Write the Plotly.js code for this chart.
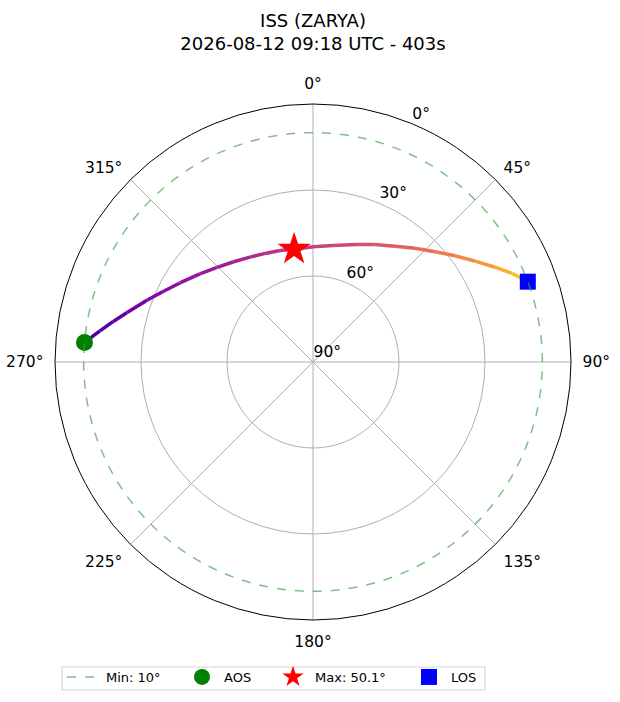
<!DOCTYPE html>
<html>
<head>
<meta charset="utf-8">
<script src="https://cdn.plot.ly/plotly-3.0.1.min.js"></script>
<style>
  html, body { margin: 0; padding: 0; background: #fff; }
  #chart { width: 620px; height: 702px; }
</style>
</head>
<body>
<div id="chart"></div>
<script>
// Satellite pass sky plot: azimuth clockwise from north, elevation 90° at centre.
const TITLE = "ISS (ZARYA)<br>2026-08-12 09:18 UTC - 403s";

// track (degrees), AOS -> LOS
const TRACK_AZ = [274.9, 278.3, 281.4, 284.9, 290.4, 295.2, 300.7, 307.9, 314.6, 321.3, 329.0, 336.2, 343.5,
                  350.5, 0.0, 9.8, 20.5, 27.8, 35.3, 41.9, 47.9, 53.2, 58.1, 62.5, 66.0, 69.5];
const TRACK_EL = [10.0, 14.9, 18.8, 22.9, 28.2, 32.2, 36.0, 40.0, 43.0, 45.3, 47.3, 48.6, 49.4,
                  50.1, 49.8, 48.8, 46.2, 43.7, 40.5, 36.7, 32.6, 28.1, 23.4, 18.4, 14.0, 10.0];
const TRACK_C = [0.08, 0.12, 0.16, 0.20, 0.24, 0.28, 0.31, 0.34, 0.35, 0.37, 0.39, 0.41, 0.43,
                 0.45, 0.47, 0.50, 0.53, 0.55, 0.58, 0.61, 0.65, 0.69, 0.73, 0.79, 0.84, 0.88];

const MIN_EL = 10;
const AOS = { az: 274.9, el: 10.0 };
const MAX = { az: 350.5, el: 50.1 };
const LOS = { az: 69.5, el: 10.0 };

const AZ_TICKS = [0, 45, 90, 135, 180, 225, 270, 315];
const EL_TICKS = [0, 30, 60, 90];

const FONT = "DejaVu Sans, sans-serif";
const GRID = "#b0b0b0";
const MIN_COLOR = "rgba(60,160,60,0.65)";

// matplotlib "plasma" stops
const PLASMA = ["#0d0887", "#41049d", "#6a00a8", "#8f0da4", "#b12a90", "#cc4778",
                "#e16462", "#f2844b", "#fca636", "#fcce25", "#f0f921"];

function hexToRgb(h) {
  return [1, 3, 5].map((i) => parseInt(h.slice(i, i + 2), 16));
}
function plasma(f) {
  const p = Math.max(0, Math.min(1, f)) * (PLASMA.length - 1);
  const i = Math.min(Math.floor(p), PLASMA.length - 2);
  const t = p - i;
  const a = hexToRgb(PLASMA[i]), b = hexToRgb(PLASMA[i + 1]);
  const c = a.map((v, k) => Math.round(v + (b[k] - v) * t));
  return `rgb(${c.join(",")})`;
}

const traces = [];

// legend entry for the min-elevation ring (the ring itself is a dashed grid circle on polar2)
traces.push({
  type: "scatterpolar", name: "Min: 10°", legend: "legend",
  r: [null], theta: [null], mode: "lines",
  line: { color: MIN_COLOR, width: 1.5, dash: "dash" },
  subplot: "polar",
});

// coloured track, one short segment per pair of points
const n = TRACK_AZ.length;
for (let i = 0; i < n - 1; i++) {
  traces.push({
    type: "scatterpolar", mode: "lines", showlegend: false, hoverinfo: "skip",
    r: [TRACK_EL[i], TRACK_EL[i + 1]],
    theta: [TRACK_AZ[i], TRACK_AZ[i + 1]],
    line: { color: plasma((TRACK_C[i] + TRACK_C[i + 1]) / 2), width: 3.5 },
    subplot: "polar",
  });
}

traces.push({
  type: "scatterpolar", mode: "markers", name: "AOS", legend: "legend2",
  r: [AOS.el], theta: [AOS.az],
  marker: { symbol: "circle", size: 17, color: "green" },
  subplot: "polar",
});
traces.push({
  type: "scatterpolar", mode: "markers", name: "Max: 50.1°", legend: "legend3",
  r: [MAX.el], theta: [MAX.az],
  marker: { symbol: "star", size: 25, color: "red" },
  subplot: "polar",
});
traces.push({
  type: "scatterpolar", mode: "markers", name: "LOS", legend: "legend4",
  r: [LOS.el], theta: [LOS.az],
  marker: { symbol: "square", size: 16, color: "blue" },
  subplot: "polar",
});

// overlays: polar2 draws the dashed min ring, polar3 carries the radial labels
traces.push({ type: "scatterpolar", mode: "lines", r: [null], theta: [null],
  showlegend: false, hoverinfo: "skip", subplot: "polar2" });
traces.push({ type: "scatterpolar", mode: "lines", r: [null], theta: [null],
  showlegend: false, hoverinfo: "skip", subplot: "polar3" });

const DOMAIN = { x: [55 / 620, 571 / 620], y: [1 - 620 / 702, 1 - 104 / 702] };
// radial labels sit a little outward/right of their rings, like matplotlib's
const LABEL_DOMAIN = { x: [48 / 620, 564 / 620], y: [1 - 604.5 / 702, 1 - 88.5 / 702] };

const HIDDEN_ANGULAR = {
  rotation: 90, direction: "clockwise",
  showgrid: false, showline: false, showticklabels: false, ticks: "",
};

function legendAt(px) {
  return {
    orientation: "h",
    x: px / 620, xanchor: "left",
    y: 1 - 662 / 702, yanchor: "top",
    borderwidth: 0, bgcolor: "rgba(0,0,0,0)",
    font: { size: 13 }, itemwidth: 34,
  };
}

const layout = {
  width: 620, height: 702,
  margin: { t: 0, r: 0, b: 0, l: 0 },
  paper_bgcolor: "white",
  font: { family: FONT, size: 15.5, color: "black" },
  title: {
    text: TITLE, font: { size: 18 },
    x: 313 / 620, xanchor: "center",
    yref: "container", y: 1 - 27 / 702, yanchor: "middle",
  },
  polar: {
    domain: DOMAIN,
    bgcolor: "rgba(0,0,0,0)",
    angularaxis: {
      rotation: 90, direction: "clockwise",
      tickmode: "array", tickvals: AZ_TICKS,
      ticktext: AZ_TICKS.map((v) => v + "°"),
      ticks: "outside", ticklen: 8, tickcolor: "rgba(0,0,0,0)",
      showline: true, linecolor: "black", linewidth: 1,
      gridcolor: GRID, gridwidth: 1,
    },
    radialaxis: {
      range: [90, 0],
      tickmode: "array", tickvals: EL_TICKS,
      showticklabels: false, showline: false, ticks: "",
      gridcolor: GRID, gridwidth: 1,
    },
  },
  polar2: {
    domain: DOMAIN,
    bgcolor: "rgba(0,0,0,0)",
    angularaxis: HIDDEN_ANGULAR,
    radialaxis: {
      range: [90, 0],
      tickmode: "array", tickvals: [MIN_EL],
      showticklabels: false, showline: false, ticks: "",
      gridcolor: MIN_COLOR, gridwidth: 1.5, griddash: "dash",
    },
  },
  polar3: {
    domain: LABEL_DOMAIN,
    bgcolor: "rgba(0,0,0,0)",
    angularaxis: HIDDEN_ANGULAR,
    radialaxis: {
      range: [90, 0],
      tickmode: "array", tickvals: EL_TICKS,
      ticktext: EL_TICKS.map((v) => v + "°"),
      angle: 67.5, tickangle: 67.5, side: "clockwise",
      showgrid: false, showline: false, ticks: "",
    },
  },
  showlegend: true,
  legend: legendAt(62),
  legend2: legendAt(180),
  legend3: legendAt(271),
  legend4: legendAt(407),
  // frame round the four legend entries
  shapes: [{
    type: "rect", xref: "paper", yref: "paper", layer: "below",
    x0: 62 / 620, x1: 485 / 620, y0: 1 - 690 / 702, y1: 1 - 667 / 702,
    line: { color: "#d5d5d5", width: 1.2 }, fillcolor: "white",
  }],
};

Plotly.newPlot("chart", traces, layout, { displayModeBar: false, staticPlot: true });
</script>
</body>
</html>
